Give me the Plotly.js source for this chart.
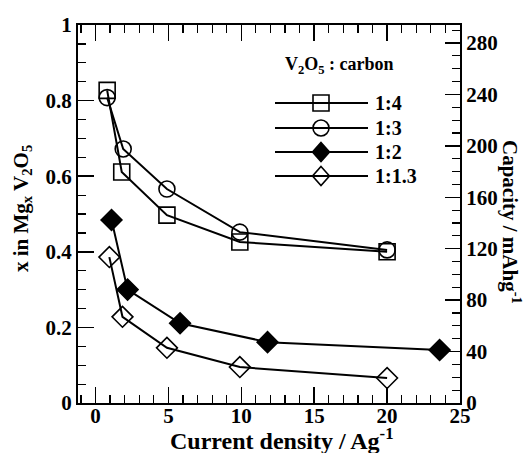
<!DOCTYPE html>
<html>
<head>
<meta charset="utf-8">
<script src="https://cdn.plot.ly/plotly-3.0.1.min.js"></script>
<style>html,body{margin:0;padding:0;background:#fff;}#chart{width:526px;height:453px;}</style>
</head>
<body>
<div id="chart"></div>
<script>
// Series: x = current density (A/g), y = x in MgxV2O5
const seriesNames = ["1:4", "1:3", "1:2", "1:1.3"];
const x_1_4 = [0.8, 1.8, 4.9, 9.9, 20.0];
const y_1_4 = [0.827, 0.611, 0.497, 0.426, 0.400];
const x_1_3 = [0.8, 1.9, 4.9, 9.9, 20.0];
const y_1_3 = [0.808, 0.672, 0.566, 0.452, 0.405];
const x_1_2 = [1.1, 2.2, 5.8, 11.8, 23.6];
const y_1_2 = [0.484, 0.300, 0.211, 0.161, 0.140];
const x_1_13 = [0.95, 1.85, 4.9, 9.9, 20.0];
const y_1_13 = [0.386, 0.228, 0.146, 0.095, 0.066];
const leftTicks = [0, 0.2, 0.4, 0.6, 0.8, 1];
const rightTicks = [0, 40, 80, 120, 160, 200, 240, 280];
const xTicks = [0, 5, 10, 15, 20, 25];

const font = "Liberation Serif, Times New Roman, serif";
const symbols = ["square-open", "circle-open", "diamond", "diamond-open"];
const xs = [x_1_4, x_1_3, x_1_2, x_1_13];
const ys = [y_1_4, y_1_3, y_1_2, y_1_13];

const traces = seriesNames.map((n, i) => ({
  x: xs[i], y: ys[i], name: n, type: "scatter", mode: "lines+markers",
  line: {color: "#000", width: 2},
  marker: {symbol: symbols[i], size: 16, color: "#000", line: {color: "#000", width: 1.6}},
  xaxis: "x", yaxis: "y", showlegend: false
}));
// invisible trace to anchor right axis
traces.push({x: [0], y: [0], yaxis: "y2", xaxis: "x", showlegend: false, mode: "markers",
  marker: {opacity: 0}, hoverinfo: "skip"});

// plot-area geometry (pixels) used only to place the hand-made legend key and titles
const M = {l: 78, r: 66, t: 25, b: 50};
const W = 526, H = 453;
const pw = W - M.l - M.r, ph = H - M.t - M.b;
const px = v => (v - M.l) / pw;
const py = v => (H - M.b - v) / ph;

const legRows = [103, 128, 152, 176];
const legLineX = [275, 368], legMarkX = 321, legTextX = 373, half = 8;
const shapes = [];
const annotations = [];
legRows.forEach((ry, i) => {
  shapes.push({type: "line", xref: "paper", yref: "paper", x0: px(legLineX[0]), x1: px(legLineX[1]),
    y0: py(ry), y1: py(ry), line: {color: "#000", width: 2}});
  const sym = symbols[i];
  if (sym === "square-open") {
    shapes.push({type: "rect", xref: "paper", yref: "paper", x0: px(legMarkX - half), x1: px(legMarkX + half),
      y0: py(ry + half), y1: py(ry - half), line: {color: "#000", width: 1.6}});
  } else if (sym === "circle-open") {
    shapes.push({type: "circle", xref: "paper", yref: "paper", x0: px(legMarkX - half), x1: px(legMarkX + half),
      y0: py(ry + half), y1: py(ry - half), line: {color: "#000", width: 1.6}});
  } else {
    const d = 9.5, w = 8.5;
    const path = "M" + px(legMarkX) + "," + py(ry - d) + " L" + px(legMarkX + w) + "," + py(ry) +
      " L" + px(legMarkX) + "," + py(ry + d) + " L" + px(legMarkX - w) + "," + py(ry) + " Z";
    shapes.push({type: "path", xref: "paper", yref: "paper", path: path,
      fillcolor: sym === "diamond" ? "#000" : "rgba(0,0,0,0)", line: {color: "#000", width: 1.6}});
  }
  annotations.push({text: "<b>" + seriesNames[i] + "</b>", xref: "paper", yref: "paper", x: px(legTextX), y: py(ry),
    xanchor: "left", yanchor: "middle", showarrow: false, font: {family: font, size: 20, color: "#000"}});
});

annotations.push(
  {text: "<b>Current density / Ag<sup>-1</sup></b>", xref: "paper", yref: "paper", x: px(282), y: py(439),
    xanchor: "center", yanchor: "middle", showarrow: false, font: {family: font, size: 24, color: "#000"}},
  {text: "<b>x in Mg<sub>x</sub> V<sub>2</sub>O<sub>5</sub></b>", xref: "paper", yref: "paper", x: px(22), y: py(209),
    xanchor: "center", yanchor: "middle", textangle: -90, showarrow: false, font: {family: font, size: 21, color: "#000"}},
  {text: "<b>Capacity / mAhg<sup>-1</sup></b>", xref: "paper", yref: "paper", x: px(512), y: py(222),
    xanchor: "center", yanchor: "middle", textangle: 90, showarrow: false, font: {family: font, size: 21, color: "#000"}},
  {text: "<b>V<sub>2</sub>O<sub>5</sub> : carbon</b>", xref: "paper", yref: "paper", x: px(339), y: py(65),
    xanchor: "center", yanchor: "middle", showarrow: false, font: {family: font, size: 18, color: "#000"}}
);

const tf = {family: font, size: 21, color: "#000", weight: "bold"};
const layout = {
  width: W, height: H,
  margin: M,
  paper_bgcolor: "#fff", plot_bgcolor: "#fff",
  font: {family: font, color: "#000", size: 20},
  showlegend: false,
  xaxis: {
    range: [-1.2, 25], tickmode: "array", tickvals: xTicks, ticktext: xTicks.map(String),
    ticks: "inside", ticklen: 16, tickwidth: 1.5, tickcolor: "#000", ticklabelstandoff: -7,
    minor: {dtick: 1, tick0: 0, ticks: "inside", ticklen: 8, tickwidth: 1.2, tickcolor: "#000", showgrid: false},
    showline: true, linewidth: 2, linecolor: "#000", mirror: "ticks",
    showgrid: false, zeroline: false, tickfont: tf
  },
  yaxis: {
    range: [0, 1], tickmode: "array", tickvals: leftTicks, ticktext: leftTicks.map(String),
    ticks: "inside", ticklen: 16, tickwidth: 1.5, tickcolor: "#000",
    minor: {dtick: 0.05, tick0: 0, ticks: "inside", ticklen: 8, tickwidth: 1.2, tickcolor: "#000", showgrid: false},
    showline: true, linewidth: 2, linecolor: "#000",
    showgrid: false, zeroline: false, tickfont: tf
  },
  yaxis2: {
    overlaying: "y", side: "right", range: [0, 294],
    tickmode: "array", tickvals: rightTicks, ticktext: rightTicks.map(String),
    ticks: "inside", ticklen: 15, tickwidth: 1.5, tickcolor: "#000",
    minor: {dtick: 10, tick0: 0, ticks: "inside", ticklen: 8, tickwidth: 1.2, tickcolor: "#000", showgrid: false},
    showline: true, linewidth: 2, linecolor: "#000",
    showgrid: false, zeroline: false, tickfont: tf
  },
  shapes: shapes,
  annotations: annotations
};

Plotly.newPlot("chart", traces, layout, {displayModeBar: false, staticPlot: true});
</script>
</body>
</html>
